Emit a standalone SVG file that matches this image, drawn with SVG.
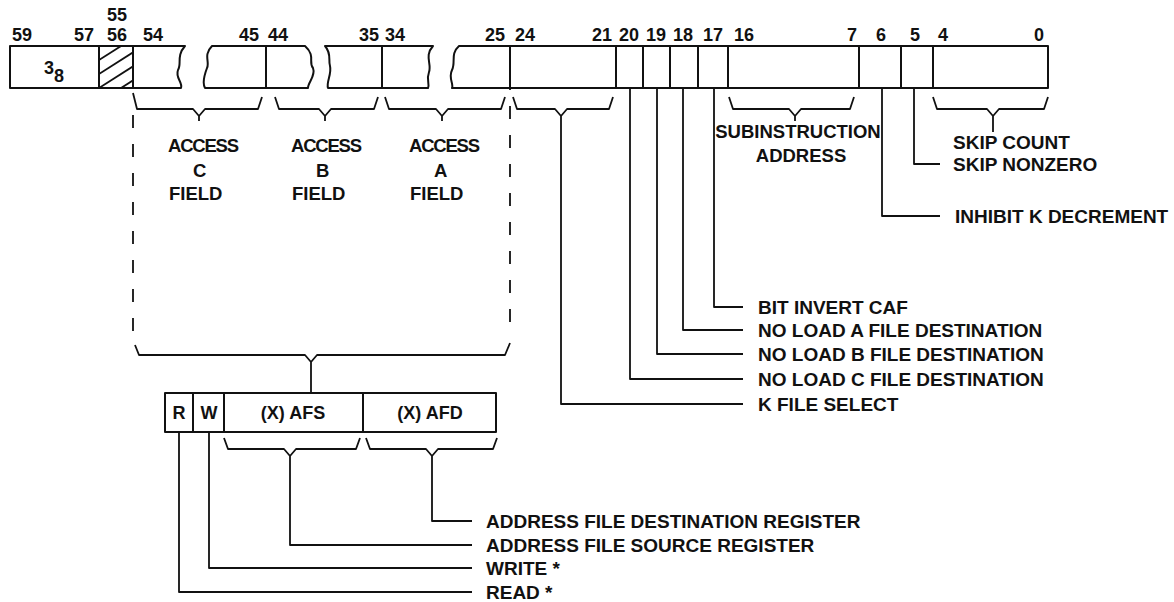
<svg xmlns="http://www.w3.org/2000/svg" width="1174" height="602" viewBox="0 0 1174 602">
<style>
text{font-family:"Liberation Sans",Arial,sans-serif;font-weight:bold;font-size:18px;fill:#111}
.lbl{font-size:19px}
.fld{font-size:18.5px}
.acc{font-size:18.5px;letter-spacing:-1.2px}
.box{fill:none;stroke:#111;stroke-width:2;stroke-linejoin:round}
.ln{fill:none;stroke:#111;stroke-width:1.8;stroke-linejoin:round}
.dash{fill:none;stroke:#111;stroke-width:1.8;stroke-dasharray:13 16}
</style>
<defs>
<clipPath id="hc"><rect x="99" y="46" width="34" height="42"/></clipPath>
</defs>
<rect width="1174" height="602" fill="#fff"/>

<g id="bitnumbers">
<text x="107" y="21">55</text>
<text x="12" y="41">59</text>
<text x="74" y="41">57</text>
<text x="107" y="41">56</text>
<text x="143" y="41">54</text>
<text x="239" y="41">45</text>
<text x="268" y="41">44</text>
<text x="359" y="41">35</text>
<text x="385" y="41">34</text>
<text x="485" y="41">25</text>
<text x="515" y="41">24</text>
<text x="592" y="41">21</text>
<text x="619" y="41">20</text>
<text x="646" y="41">19</text>
<text x="673" y="41">18</text>
<text x="703" y="41">17</text>
<text x="734" y="41">16</text>
<text x="847" y="41">7</text>
<text x="876" y="41">6</text>
<text x="910" y="41">5</text>
<text x="938" y="41">4</text>
<text x="1034" y="41">0</text>
</g>

<g id="register">
<path class="box" d="M133,46 H10 V88 H133"/>
<g clip-path="url(#hc)" class="ln">
<line x1="99" y1="60" x2="140" y2="34"/>
<line x1="99" y1="74" x2="140" y2="48"/>
<line x1="99" y1="88" x2="140" y2="62"/>
<line x1="99" y1="102" x2="140" y2="76"/>
</g>
<line class="box" x1="99" y1="46" x2="99" y2="88"/>
<line class="box" x1="133" y1="46" x2="133" y2="88"/>
<path class="box" d="M133,46 H185 C176,56 182,64 178,70 C175,78 183,82 181,88 H133"/>
<path class="box" d="M266,46 H212 C203,55 210,62 207,68 C204,76 202,83 205,88 H266"/>
<line class="box" x1="266" y1="46" x2="266" y2="88"/>
<path class="box" d="M266,46 H305 C316,56 308,62 313,68 C316,76 308,82 308,88 H266"/>
<path class="box" d="M382,46 H325 C332,54 328,60 330,66 C332,74 326,82 328,88 H382"/>
<line class="box" x1="382" y1="46" x2="382" y2="88"/>
<path class="box" d="M382,46 H433 C424,56 432,64 429,72 C426,80 430,84 428,88 H382"/>
<path class="box" d="M1048,46 H459 C450,54 456,62 452,70 C448,78 454,84 452,88 H1048 Z"/>
<line class="box" x1="510" y1="46" x2="510" y2="88"/>
<line class="box" x1="616" y1="46" x2="616" y2="88"/>
<line class="box" x1="643" y1="46" x2="643" y2="88"/>
<line class="box" x1="670" y1="46" x2="670" y2="88"/>
<line class="box" x1="698" y1="46" x2="698" y2="88"/>
<line class="box" x1="728" y1="46" x2="728" y2="88"/>
<line class="box" x1="859" y1="46" x2="859" y2="88"/>
<line class="box" x1="901" y1="46" x2="901" y2="88"/>
<line class="box" x1="933" y1="46" x2="933" y2="88"/>
<text x="44" y="74">3</text><text x="54" y="82">8</text>
</g>

<g id="subregister">
<rect class="box" x="165" y="393" width="331" height="39"/>
<line class="box" x1="193" y1="393" x2="193" y2="432"/>
<line class="box" x1="224" y1="393" x2="224" y2="432"/>
<line class="box" x1="363" y1="393" x2="363" y2="432"/>
<text x="179" y="419" text-anchor="middle">R</text>
<text x="209" y="419" text-anchor="middle">W</text>
<text x="293" y="419" text-anchor="middle">(X) AFS</text>
<text x="430" y="419" text-anchor="middle">(X) AFD</text>
</g>

<g id="connectors">
<path class="ln" d="M133,93 L137,109 H193 L199,116 L205,109 H258 L262,97 M199,116 V121"/>
<path class="ln" d="M275,97 L279,109 H319 L325,116 L331,109 H374 L378,97 M325,116 V121"/>
<path class="ln" d="M385,97 L389,109 H436 L442,116 L448,109 H501 L505,97 M442,116 V121"/>
<path class="ln" d="M513,97 L517,109 H555 L561,116 L567,109 H609 L613,97 M561,116 V404 H743"/>
<path class="ln" d="M729,97 L733,109 H789 L795,116 L801,109 H850 L854,97 M795,116 V121"/>
<path class="ln" d="M933,97 L937,109 H987 L993,116 L999,109 H1044 L1048,97 M993,116 V132"/>
<line class="dash" x1="133" y1="115" x2="133" y2="337"/>
<line class="dash" x1="510" y1="88" x2="510" y2="337" stroke-dashoffset="-18"/>
<path class="ln" d="M135,345 L139,355 H305 L311,362 L317,355 H505 L510,343 M311,362 V393"/>
<path class="ln" d="M630,88 V379 H743"/>
<path class="ln" d="M657,88 V354 H743"/>
<path class="ln" d="M683,88 V330 H743"/>
<path class="ln" d="M714,88 V307 H743"/>
<path class="ln" d="M882,88 V216 H940"/>
<path class="ln" d="M914,88 V164 H940"/>
<path class="ln" d="M224,438 L228,449 H284 L290,456 L296,449 H356 L360,438 M290,456 V545 H472"/>
<path class="ln" d="M366,438 L370,449 H426 L432,456 L438,449 H493 L497,438 M432,456 V521 H472"/>
<path class="ln" d="M209,432 V568 H472"/>
<path class="ln" d="M179,432 V592 H472"/>
</g>

<g id="labels">
<text class="acc" x="168" y="152">ACCESS</text>
<text class="fld" x="193" y="177">C</text>
<text class="fld" x="169" y="200">FIELD</text>
<text class="acc" x="291" y="152">ACCESS</text>
<text class="fld" x="316" y="177">B</text>
<text class="fld" x="292" y="200">FIELD</text>
<text class="acc" x="409" y="152">ACCESS</text>
<text class="fld" x="434" y="177">A</text>
<text class="fld" x="410" y="200">FIELD</text>
<text class="fld" x="798" y="138" text-anchor="middle">SUBINSTRUCTION</text>
<text class="fld" x="801" y="162" text-anchor="middle">ADDRESS</text>
<text class="lbl" x="953" y="149">SKIP COUNT</text>
<text class="lbl" x="953" y="171">SKIP NONZERO</text>
<text class="lbl" x="955" y="223">INHIBIT K DECREMENT</text>
<text class="lbl" x="758" y="314">BIT INVERT CAF</text>
<text class="lbl" x="758" y="337">NO LOAD A FILE DESTINATION</text>
<text class="lbl" x="758" y="361">NO LOAD B FILE DESTINATION</text>
<text class="lbl" x="758" y="386">NO LOAD C FILE DESTINATION</text>
<text class="lbl" x="758" y="411">K FILE SELECT</text>
<text class="lbl" x="486" y="528">ADDRESS FILE DESTINATION REGISTER</text>
<text class="lbl" x="486" y="552">ADDRESS FILE SOURCE REGISTER</text>
<text class="lbl" x="486" y="575">WRITE *</text>
<text class="lbl" x="486" y="599">READ *</text>
</g>
</svg>
